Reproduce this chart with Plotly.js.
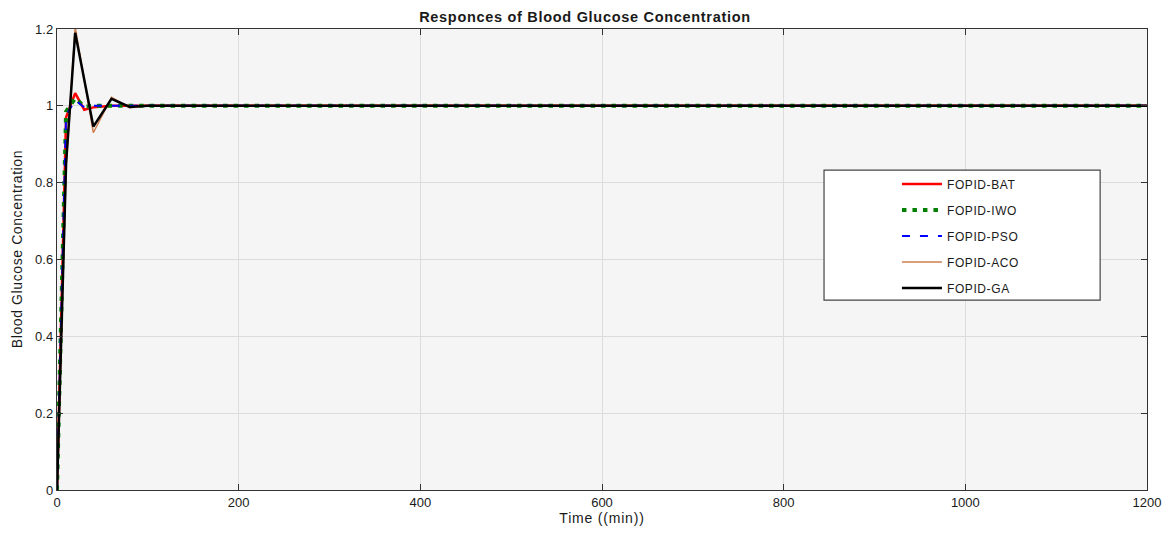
<!DOCTYPE html>
<html>
<head>
<meta charset="utf-8">
<script src="https://cdn.plot.ly/plotly-3.0.1.min.js"></script>
<style>
html,body{margin:0;padding:0;background:#fff;}
#chart{width:1170px;height:533px;}
#chart .gtitle{letter-spacing:0.7px;}
#chart .xtitle{letter-spacing:0.8px;}
#chart .annotation-text{letter-spacing:0.6px;}
#chart .legendtext{letter-spacing:0.6px;}
</style>
</head>
<body>
<div id="chart"></div>
<script>
// Time (min)
var time = [0, 10, 20, 30, 40, 60, 80, 100, 1200];
// Blood glucose concentration responses
var bat = [0, 0.97, 1.033, 0.99, 0.996, 1.0, 1.0, 1.0, 1.0];
var iwo = [0, 0.985, 1.02, 0.998, 1.0, 1.0, 1.0, 1.0, 1.0];
var pso = [0, 0.975, 1.015, 0.996, 1.0, 1.0, 1.0, 1.0, 1.0];
var aco = [0, 0.84, 1.205, 1.068, 0.93, 1.022, 0.995, 1.0, 1.0];
var ga  = [0, 0.85, 1.19, 1.068, 0.946, 1.018, 0.997, 1.0, 1.0];
var seriesNames = ['FOPID-BAT', 'FOPID-IWO', 'FOPID-PSO', 'FOPID-ACO', 'FOPID-GA'];
var xTicks = [0, 200, 400, 600, 800, 1000, 1200];
var yTicks = [0, 0.2, 0.4, 0.6, 0.8, 1, 1.2];

var font = 'Liberation Sans, Arial, sans-serif';
var styles = [
  {color: '#ff0000', width: 2.5, dash: 'solid'},
  {color: '#008000', width: 4, dash: '4.5px,6px'},
  {color: '#0000ff', width: 2, dash: '8px,10px'},
  {color: '#cd7f50', width: 1.5, dash: 'solid'},
  {color: '#000000', width: 2.5, dash: 'solid'}
];
var ys = [bat, iwo, pso, aco, ga];
var traces = ys.map(function (y, i) {
  return {
    x: time, y: y, type: 'scatter', mode: 'lines', name: seriesNames[i],
    legendgroup: 'g' + i,
    line: styles[i]
  };
});

var layout = {
  width: 1170, height: 533,
  margin: {l: 57, r: 23, t: 29, b: 43},
  paper_bgcolor: '#ffffff',
  plot_bgcolor: '#f5f5f5',
  font: {family: font, size: 13, color: '#1a1a1a'},
  title: {
    text: '<b>Responces of Blood Glucose Concentration</b>',
    font: {family: font, size: 14.5, color: '#1a1a1a'},
    x: 0.5, xanchor: 'center', y: 0.968, yanchor: 'middle'
  },
  xaxis: {
    range: [0, 1200], tickvals: xTicks, ticks: 'inside', ticklen: 6,
    tickcolor: '#333', linecolor: '#333', linewidth: 1.2, mirror: 'ticks',
    showgrid: true, gridcolor: '#dcdcdc', zeroline: false,
    title: {text: 'Time ((min))', font: {size: 14}, standoff: 4},
    tickfont: {size: 13}
  },
  yaxis: {
    range: [0, 1.2], tickvals: yTicks, ticks: 'inside', ticklen: 6,
    tickcolor: '#333', linecolor: '#333', linewidth: 1.2, mirror: 'ticks',
    showgrid: true, gridcolor: '#dcdcdc', zeroline: false,
    tickfont: {size: 13}
  },
  annotations: [{
    text: 'Blood Glucose Concentration', textangle: -90, showarrow: false,
    xref: 'paper', yref: 'paper', x: -0.036, y: 0.522,
    xanchor: 'center', yanchor: 'middle',
    font: {family: font, size: 14, color: '#1a1a1a'}
  }],
  shapes: [{
    type: 'rect', xref: 'paper', yref: 'paper', layer: 'above',
    x0: 0.7037, x1: 0.957, y0: 0.412, y1: 0.694,
    fillcolor: '#ffffff', line: {color: '#444', width: 1.2}
  }],
  showlegend: true,
  legend: {
    x: 0.7706, xanchor: 'left', y: 0.695, yanchor: 'top',
    bgcolor: 'rgba(0,0,0,0)', borderwidth: 0,
    font: {family: font, size: 12, color: '#1a1a1a'},
    traceorder: 'grouped', tracegroupgap: 7, itemwidth: 40
  }
};

Plotly.newPlot('chart', traces, layout, {displayModeBar: false, staticPlot: true});
</script>
</body>
</html>
